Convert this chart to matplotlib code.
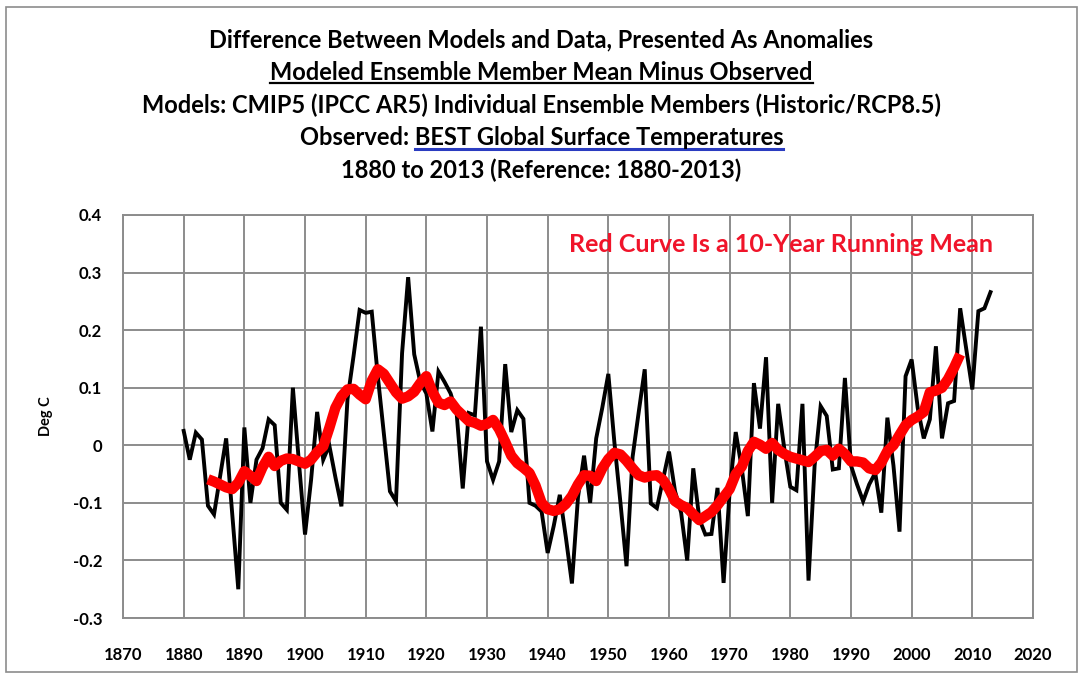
import numpy as np
import matplotlib
matplotlib.use('Agg')
import matplotlib.pyplot as plt
from matplotlib.lines import Line2D
from matplotlib.patches import Rectangle

plt.rcParams['font.family'] = ['Lato', 'DejaVu Sans']
plt.rcParams['font.weight'] = 'bold'

# Annual differences, models minus observed (deg C), 1880-2013
anos = np.arange(1880, 2014)
diferenca = [
    0.025, -0.025, 0.022, 0.010, -0.105, -0.120, -0.054, 0.012, -0.120, -0.250,   # 1880s
    0.031, -0.100, -0.025, -0.005, 0.045, 0.035, -0.100, -0.112, 0.100, -0.030,   # 1890s
    -0.155, -0.060, 0.058, -0.025, 0.000, -0.055, -0.106, 0.080, 0.155, 0.235,    # 1900s
    0.230, 0.232, 0.120, 0.020, -0.080, -0.097, 0.160, 0.292, 0.158, 0.110,       # 1910s
    0.090, 0.024, 0.128, 0.110, 0.090, 0.055, -0.075, 0.056, 0.052, 0.206,        # 1920s
    -0.028, -0.060, -0.028, 0.141, 0.023, 0.061, 0.046, -0.100, -0.105, -0.115,   # 1930s
    -0.187, -0.140, -0.086, -0.160, -0.240, -0.090, -0.018, -0.100, 0.012, 0.065, # 1940s
    0.124, 0.005, -0.100, -0.210, -0.020, 0.057, 0.132, -0.101, -0.109, -0.060,   # 1950s
    -0.011, -0.080, -0.117, -0.200, -0.040, -0.128, -0.155, -0.154, -0.074, -0.239,  # 1960s
    -0.080, 0.023, -0.040, -0.123, 0.108, 0.029, 0.153, -0.100, 0.072, -0.005,    # 1970s
    -0.072, -0.078, 0.072, -0.235, -0.036, 0.068, 0.051, -0.042, -0.040, 0.117,   # 1980s
    -0.035, -0.068, -0.097, -0.068, -0.048, -0.117, 0.048, -0.035, -0.150, 0.120, # 1990s
    0.149, 0.065, 0.012, 0.045, 0.172, 0.012, 0.073, 0.077, 0.238, 0.167,         # 2000s
    0.097, 0.233, 0.238, 0.266,                                                   # 2010-2013
]

# 10-year running mean, centred, 1884-2008
anos_media = np.arange(1884, 2009)
media_movel = [
    -0.059, -0.063, -0.068, -0.073, -0.076, -0.065,                               # 1884-1889
    -0.045, -0.053, -0.062, -0.038, -0.020, -0.036, -0.027, -0.023, -0.024, -0.028,
    -0.032, -0.025, -0.012, -0.002, 0.030, 0.065, 0.085, 0.097, 0.098, 0.088,
    0.080, 0.112, 0.132, 0.124, 0.108, 0.092, 0.081, 0.085, 0.093, 0.108,
    0.120, 0.093, 0.074, 0.070, 0.076, 0.062, 0.052, 0.042, 0.039, 0.034,
    0.037, 0.044, 0.028, 0.006, -0.018, -0.031, -0.039, -0.048, -0.070, -0.100,
    -0.111, -0.114, -0.111, -0.102, -0.088, -0.068, -0.052, -0.053, -0.062, -0.040,
    -0.024, -0.013, -0.016, -0.027, -0.040, -0.052, -0.056, -0.053, -0.052, -0.060,
    -0.076, -0.097, -0.104, -0.109, -0.120, -0.130, -0.123, -0.116, -0.104, -0.090,
    -0.076, -0.050, -0.037, -0.010, 0.006, 0.001, -0.006, 0.004, -0.008, -0.015,
    -0.020, -0.023, -0.026, -0.029, -0.020, -0.010, -0.008, -0.018, -0.006, -0.015,
    -0.028, -0.028, -0.030, -0.040, -0.043, -0.030, -0.010, 0.000, 0.018, 0.035,
    0.044, 0.050, 0.058, 0.092, 0.095, 0.100, 0.115, 0.135, 0.158,               # 2000-2008
]

titulos = [
    'Difference Between Models and Data, Presented As Anomalies',
    'Modeled Ensemble Member Mean Minus Observed',
    'Models: CMIP5 (IPCC AR5) Individual Ensemble Members (Historic/RCP8.5)',
    'Observed: BEST Global Surface Temperatures',
    '1880 to 2013 (Reference: 1880-2013)',
]
y_ticks = [-0.3, -0.2, -0.1, 0.0, 0.1, 0.2, 0.3, 0.4]
x_ticks = list(range(1870, 2021, 10))

fs_titulo = 17

fig = plt.figure(figsize=(10.83, 6.75), dpi=100)
ax = fig.add_axes([0.1136, 0.0844, 0.8402, 0.5971])

ax.plot(anos, diferenca, color='black', lw=2.8, solid_joinstyle='miter')
ax.plot(anos_media, media_movel, color='#ff0000', lw=7.5, solid_capstyle='butt')

ax.set_xlim(1870, 2020)
ax.set_ylim(-0.3, 0.4)
ax.set_xticks(x_ticks)
ax.set_yticks(y_ticks)
ax.set_yticklabels(['%.1f' % v if v != 0 else '0' for v in y_ticks])
ax.grid(True, color='#8c8c8c', lw=1.4)
ax.set_axisbelow(True)
for s in ax.spines.values():
    s.set_color('#8c8c8c')
    s.set_linewidth(1.4)
ax.tick_params(length=0, labelsize=12, colors='black')
ax.tick_params(axis='x', pad=21)
ax.tick_params(axis='y', pad=15)
for lbl in ax.get_xticklabels() + ax.get_yticklabels():
    lbl.set_fontweight('bold')
ax.set_ylabel('Deg C', fontsize=10.5, fontweight='bold', labelpad=14)

ax.text(1978.5, 0.348, 'Red Curve Is a 10-Year Running Mean', color='#f0142a',
        fontsize=18, fontweight='bold', ha='center', va='center')

# Title block
ys = [0.9407, 0.8919, 0.8444, 0.7956, 0.7481]
txts = []
for t, y in zip(titulos, ys):
    txts.append(fig.text(0.5, y, t, ha='center', va='center', fontsize=fs_titulo, fontweight='bold'))

fig.canvas.draw()
r = fig.canvas.get_renderer()
inv = fig.transFigure.inverted()

# underline of the second line
bb = txts[1].get_window_extent(r)
(x0, y0), (x1, _) = inv.transform([(bb.x0, bb.y0 + 1), (bb.x1, bb.y0 + 1)])
fig.add_artist(Line2D([x0, x1], [y0, y0], color='black', lw=1.6, transform=fig.transFigure))

# blue underline under the data set name only
bb = txts[3].get_window_extent(r)
tmp = fig.text(0, 0, 'Observed: ', fontsize=fs_titulo, fontweight='bold')
w_pre = tmp.get_window_extent(r).width
tmp.remove()
(x0, y0), (x1, _) = inv.transform([(bb.x0 + w_pre, bb.y0), (bb.x1, bb.y0)])
fig.add_artist(Line2D([x0, x1], [y0, y0], color='#2a3cc0', lw=2.2, transform=fig.transFigure))

# outer frame
fig.add_artist(Rectangle((0.006, 0.004), 0.988, 0.986, fill=False, edgecolor='#8c8c8c',
                         lw=1.2, transform=fig.transFigure))

fig.savefig('out.png', dpi=100)
